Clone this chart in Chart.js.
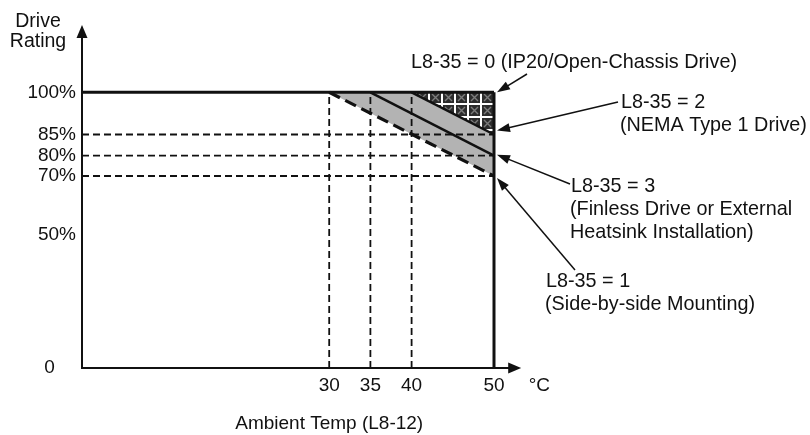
<!DOCTYPE html>
<html>
<head>
<meta charset="utf-8">
<script src="https://cdn.jsdelivr.net/npm/chart.js@4/dist/chart.umd.min.js"></script>
<style>
  html, body { margin: 0; padding: 0; background: #ffffff; }
  canvas { display: block; }
</style>
</head>
<body>
<canvas id="derating" width="810" height="435"></canvas>
<script>
// ---- Data ---------------------------------------------------------------
const tempTicks = [30, 35, 40, 50];                  // °C
const ratingTicks = [0, 50, 70, 80, 85, 100];        // %
const settingNames = ['L8-35 = 0', 'L8-35 = 2', 'L8-35 = 3', 'L8-35 = 1'];
const settingNotes = [
  ['(IP20/Open-Chassis Drive)'],
  ['(NEMA Type 1 Drive)'],
  ['(Finless Drive or External', 'Heatsink Installation)'],
  ['(Side-by-side Mounting)']
];
const derateStartTemp = [50, 40, 35, 30];            // °C where derating begins
const ratingAtMaxTemp = [100, 85, 80, 70];           // % rating at the max temperature
const maxTemp = 50;
const fullRating = 100;

// ---- Layout / style ----------------------------------------------------
const FONT = '"Liberation Sans", Arial, sans-serif';
const INK = '#111111';
const xAxisEnd = 53.3;             // arrow tip of the temperature axis (°C)
// the rating axis is drawn schematically: piecewise-linear between these values
const yBreakValues    = [0, 50, 70, 80, 85, 100, 124];
const yBreakFractions = [0, 0.3866, 0.5581, 0.6172, 0.6788, 0.8015, 1];

function interp(v, xs, ys) {
  if (v <= xs[0]) return ys[0] + (v - xs[0]) * (ys[1] - ys[0]) / (xs[1] - xs[0]);
  for (let i = 1; i < xs.length; i++) {
    if (v <= xs[i]) return ys[i - 1] + (v - xs[i - 1]) * (ys[i] - ys[i - 1]) / (xs[i] - xs[i - 1]);
  }
  const n = xs.length - 1;
  return ys[n] + (v - xs[n]) * (ys[n] - ys[n - 1]) / (xs[n] - xs[n - 1]);
}

class BrokenLinearScale extends Chart.LinearScale {
  getPixelForValue(value) {
    if (value === null || value === undefined) return NaN;
    const f = interp(value, yBreakValues, yBreakFractions);
    return this.bottom - f * (this.bottom - this.top);
  }
  getValueForPixel(pixel) {
    const f = (this.bottom - pixel) / (this.bottom - this.top);
    return interp(f, yBreakFractions, yBreakValues);
  }
}
BrokenLinearScale.id = 'brokenLinear';
BrokenLinearScale.defaults = Chart.LinearScale.defaults;
Chart.register(BrokenLinearScale);

// checker fill for the IP20 region
function makeChecker() {
  const t = document.createElement('canvas');
  t.width = 13; t.height = 13;
  const g = t.getContext('2d');
  g.fillStyle = '#ffffff'; g.fillRect(0, 0, 13, 13);
  g.fillStyle = '#2c2c2c'; g.fillRect(1, 1, 11, 11);
  g.strokeStyle = '#7c7c7c'; g.lineWidth = 1.4;
  g.beginPath();
  g.moveTo(3, 3); g.lineTo(10, 10);
  g.moveTo(10, 3); g.lineTo(3, 10);
  g.stroke();
  return g.createPattern(t, 'repeat');
}

// ---- Datasets (listed bottom layer first) -------------------------------
const pt = (x, y) => ({ x, y });
const layers = [];

// shaded band between side-by-side and NEMA curves
layers.push({
  data: [pt(derateStartTemp[3], fullRating), pt(derateStartTemp[1], fullRating),
         pt(maxTemp, ratingAtMaxTemp[1]), pt(maxTemp, ratingAtMaxTemp[3]),
         pt(derateStartTemp[3], fullRating)],
  fill: 'shape', backgroundColor: '#b3b3b3', borderWidth: 0
});
// checkered IP20 triangle
layers.push({
  data: [pt(derateStartTemp[1], fullRating), pt(maxTemp, fullRating),
         pt(maxTemp, ratingAtMaxTemp[1]), pt(derateStartTemp[1], fullRating)],
  fill: 'shape', backgroundColor: makeChecker(), borderWidth: 0
});
// dashed guide lines
derateStartTemp.filter(t => t < maxTemp).forEach(t => layers.push({
  data: [pt(t, 0), pt(t, fullRating)],
  borderColor: INK, borderWidth: 1.8, borderDash: [7, 4]
}));
ratingAtMaxTemp.filter(r => r < fullRating).forEach(r => layers.push({
  data: [pt(0, r), pt(maxTemp, r)],
  borderColor: INK, borderWidth: 1.8, borderDash: [7, 4]
}));
// derating curves
derateStartTemp.forEach((t, i) => {
  if (t >= maxTemp) return;
  const sideBySide = ratingAtMaxTemp[i] === Math.min(...ratingAtMaxTemp);
  layers.push({
    data: [pt(t, fullRating), pt(maxTemp, ratingAtMaxTemp[i])],
    borderColor: INK,
    borderWidth: sideBySide ? 3.2 : 2.5,
    borderDash: sideBySide ? [12, 6] : []
  });
});
// full rating line and the max temperature limit
layers.push({ data: [pt(0, fullRating), pt(maxTemp, fullRating)], borderColor: INK, borderWidth: 3 });
layers.push({ data: [pt(maxTemp, fullRating), pt(maxTemp, 0)], borderColor: INK, borderWidth: 3 });

layers.forEach((d, i) => {
  d.showLine = true; d.pointRadius = 0; d.pointHoverRadius = 0;
  if (d.fill === undefined) d.fill = false;
  d.order = layers.length - i;     // higher order is painted first
});

// ---- Decorations: axes with arrows, labels, leader arrows ---------------
function arrow(ctx, x0, y0, x1, y1, len, half, lw) {
  const a = Math.atan2(y1 - y0, x1 - x0);
  const bx = x1 - len * Math.cos(a), by = y1 - len * Math.sin(a);
  ctx.lineWidth = lw;
  ctx.beginPath(); ctx.moveTo(x0, y0); ctx.lineTo(bx + Math.cos(a), by + Math.sin(a)); ctx.stroke();
  ctx.beginPath();
  ctx.moveTo(x1, y1);
  ctx.lineTo(bx + half * Math.sin(a), by - half * Math.cos(a));
  ctx.lineTo(bx - half * Math.sin(a), by + half * Math.cos(a));
  ctx.closePath(); ctx.fill();
}

// text anchors (left x, first line centre y), leader start and tip nudge
const noteLayout = [
  { x: 411, y: 63, from: [527, 74], dy: 0, inline: true },
  { x: 621, y: 103, from: [618, 102], dy: -4 },
  { x: 571, y: 187, from: [570, 184], dy: -1 },
  { x: 546, y: 282, from: [575, 270], dy: 2 }
];

const decorations = {
  id: 'decorations',
  afterDatasetsDraw(chart) {
    const { ctx, scales: { x, y } } = chart;
    ctx.save();
    ctx.strokeStyle = INK; ctx.fillStyle = INK; ctx.lineCap = 'butt';
    const x0 = x.getPixelForValue(0), y0 = y.getPixelForValue(0);
    // axes
    arrow(ctx, x0 - 1, y0, x.getPixelForValue(xAxisEnd), y0, 13, 5.5, 2);
    arrow(ctx, x0, y0 + 1, x0, y.top + 1, 13, 5.5, 2);

    // axis name
    ctx.font = '19.5px ' + FONT;
    ctx.textAlign = 'center'; ctx.textBaseline = 'middle';
    ctx.fillText('Drive', 38, 22);
    ctx.fillText('Rating', 38, 42);

    // setting notes with leaders
    ctx.font = '19.8px ' + FONT;
    ctx.textAlign = 'left';
    settingNames.forEach((name, i) => {
      const L = noteLayout[i];
      if (L.inline) {
        ctx.fillText(name + ' ' + settingNotes[i].join(' '), L.x, L.y);
      } else {
        ctx.fillText(name, L.x, L.y);
        settingNotes[i].forEach((line, k) => ctx.fillText(line, L.x - 1, L.y + 23 * (k + 1)));
      }
      const tipX = x.getPixelForValue(maxTemp) + 3;
      const tipY = y.getPixelForValue(ratingAtMaxTemp[i]) + L.dy;
      arrow(ctx, L.from[0], L.from[1], tipX, tipY, 13, 4.5, 1.5);
    });
    ctx.restore();
  }
};

// ---- Chart -------------------------------------------------------------
const canvas = document.getElementById('derating');
new Chart(canvas, {
  type: 'scatter',
  data: { datasets: layers },
  plugins: [decorations],
  options: {
    responsive: false,
    devicePixelRatio: 1,
    animation: false,
    events: [],
    layout: { padding: { left: 0, top: 24, right: 233.6, bottom: 0 } },
    plugins: { legend: { display: false }, tooltip: { enabled: false } },
    scales: {
      x: {
        type: 'linear', min: 0, max: 60,
        grid: { display: false, drawTicks: false }, border: { display: false },
        afterBuildTicks: s => { s.ticks = tempTicks.concat([55.5]).map(v => ({ value: v })); },
        afterFit: s => { s.height = 67; s.paddingLeft = 0; s.paddingRight = 0; },
        ticks: {
          padding: 6, maxRotation: 0, autoSkip: false, color: INK,
          font: { family: FONT, size: 19 },
          callback: v => (tempTicks.includes(v) ? String(v) : '°C')
        },
        title: {
          display: true, text: 'Ambient Temp (L8-12)', color: INK,
          font: { family: FONT, size: 19 }, padding: { top: 0, bottom: 0 }
        }
      },
      y: {
        type: 'brokenLinear', min: 0, max: 124,
        grid: { display: false, drawTicks: false }, border: { display: false },
        afterBuildTicks: s => { s.ticks = ratingTicks.map(v => ({ value: v })); },
        afterFit: s => { s.width = 82; s.paddingTop = 0; s.paddingBottom = 0; },
        ticks: {
          padding: 6, autoSkip: false, color: INK,
          font: { family: FONT, size: 19 },
          callback: v => (v === 0 ? '0    ' : v + '%')
        }
      }
    }
  }
});
</script>
</body>
</html>
